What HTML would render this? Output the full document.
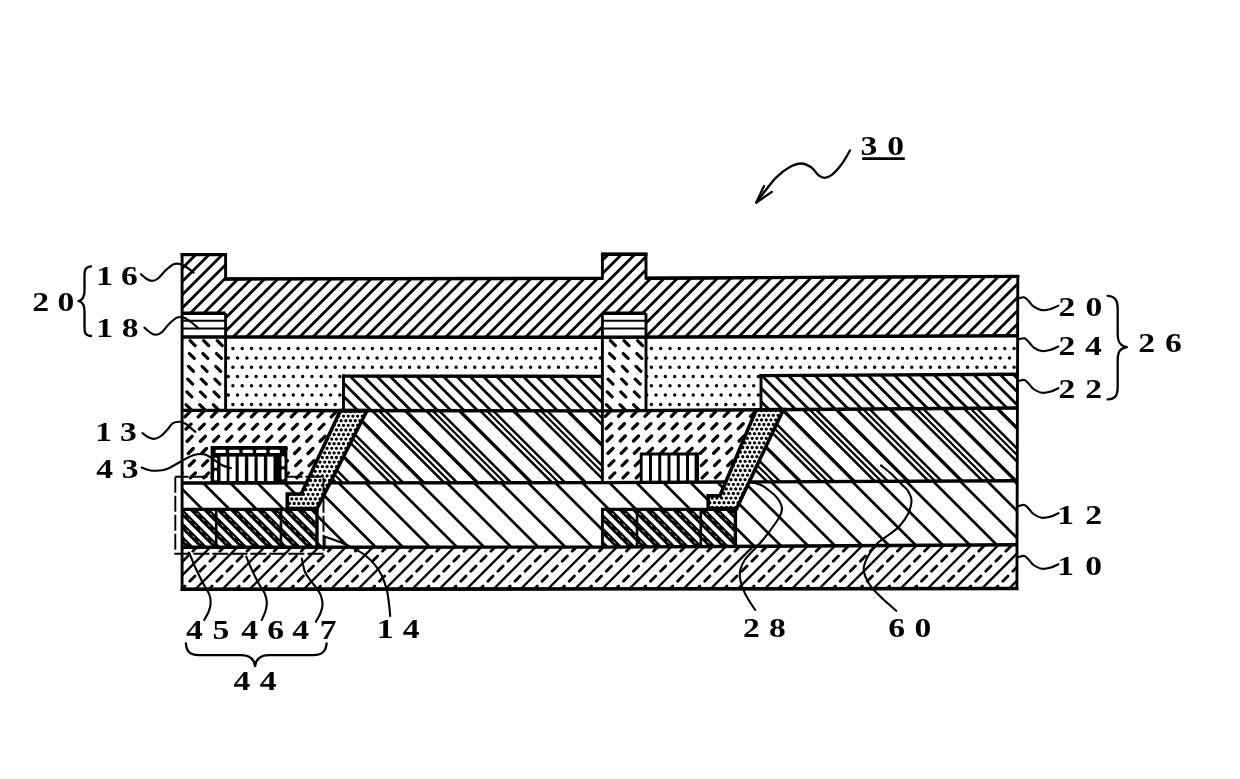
<!DOCTYPE html>
<html lang="en"><head><meta charset="utf-8"><title>Figure 30</title>
<style>html,body{margin:0;padding:0;background:#fff;overflow:hidden}svg{display:block;filter:grayscale(1)}</style></head>
<body>
<svg width="1240" height="779" viewBox="0 0 1240 779" font-family="'Liberation Serif', serif" font-weight="bold" fill="#000"><defs><clipPath id="c1"><path d="M182.1 254.6 L225.6 254.6 L225.6 278.94 L602.4 278.4 L602.4 254.3 L646 254.3 L646 278.19 L1017.3 276.4 L1017.3 335.7 L646 337.13 L646 313.2 L602.4 313.2 L602.4 337.3 L225.6 337.03 L225.6 313.2 L182.1 313.2Z" clip-rule="evenodd"/></clipPath><clipPath id="c2"><path d="M182.1 337 L225.6 337.03 L225.6 410.45 L182.1 410.4Z" clip-rule="evenodd"/></clipPath><clipPath id="c3"><path d="M602.4 337.3 L646 337.13 L646 410.6 L602.4 410.9Z" clip-rule="evenodd"/></clipPath><clipPath id="c4"><path d="M225.6 337.03 L602.4 337.3 L602.4 376.4 L343.5 376.15 L343.5 410.59 L225.6 410.45Z" clip-rule="evenodd"/></clipPath><clipPath id="c5"><path d="M646 337.13 L1017.3 335.7 L1017.3 374.3 L761 375.6 L761 409.79 L646 410.6Z" clip-rule="evenodd"/></clipPath><clipPath id="c6"><path d="M343.5 376.15 L602.4 376.4 L602.4 410.9 L343.5 410.59Z" clip-rule="evenodd"/></clipPath><clipPath id="c7"><path d="M761 375.6 L1017.3 374.3 L1017.3 408 L761 409.79Z" clip-rule="evenodd"/></clipPath><clipPath id="c8"><path d="M182.1 410.4 L340.5 410.59 L306.38 482.88 L182.1 483Z" clip-rule="evenodd"/></clipPath><clipPath id="c9"><path d="M602.4 410.9 L756.2 409.82 L725.73 482.06 L602.4 482.6Z" clip-rule="evenodd"/></clipPath><clipPath id="c10"><path d="M367 410.62 L602.4 410.9 L602.4 482.6 L330.03 482.86Z" clip-rule="evenodd"/></clipPath><clipPath id="c11"><path d="M367 410.62 L602.4 410.9 L602.4 482.6 L330.03 482.86Z" clip-rule="evenodd"/></clipPath><clipPath id="c12"><path d="M367 410.62 L602.4 410.9 L602.4 482.6 L330.03 482.86Z" clip-rule="evenodd"/></clipPath><clipPath id="c13"><path d="M367 410.62 L602.4 410.9 L602.4 482.6 L330.03 482.86Z" clip-rule="evenodd"/></clipPath><clipPath id="c14"><path d="M783.4 409.63 L1017.3 408 L1017.3 480.8 L749.08 481.96Z" clip-rule="evenodd"/></clipPath><clipPath id="c15"><path d="M783.4 409.63 L1017.3 408 L1017.3 480.8 L749.08 481.96Z" clip-rule="evenodd"/></clipPath><clipPath id="c16"><path d="M783.4 409.63 L1017.3 408 L1017.3 480.8 L749.08 481.96Z" clip-rule="evenodd"/></clipPath><clipPath id="c17"><path d="M783.4 409.63 L1017.3 408 L1017.3 480.8 L749.08 481.96Z" clip-rule="evenodd"/></clipPath><clipPath id="c18"><path d="M182.1 483 L602.4 482.6 L1017.3 480.8 L1017.3 544.8 L602.4 547.1 L182.1 547.2ZM182.1 509.4 L317 509.4 L317 547.17 L182.1 547.2ZM602.4 509.4 L735.4 509.4 L735.4 546.36 L602.4 547.1Z" clip-rule="evenodd"/></clipPath><clipPath id="c19"><path d="M182.1 509.4 L317 509.4 L317 547.17 L182.1 547.2Z" clip-rule="evenodd"/></clipPath><clipPath id="c20"><path d="M182.1 509.4 L317 509.4 L317 547.17 L182.1 547.2Z" clip-rule="evenodd"/></clipPath><clipPath id="c21"><path d="M602.4 509.4 L735.4 509.4 L735.4 546.36 L602.4 547.1Z" clip-rule="evenodd"/></clipPath><clipPath id="c22"><path d="M602.4 509.4 L735.4 509.4 L735.4 546.36 L602.4 547.1Z" clip-rule="evenodd"/></clipPath><clipPath id="c23"><path d="M340.5 410.59 L367 410.62 L317 508.5 L287.3 508.5 L287.3 494 L301.2 494Z" clip-rule="evenodd"/></clipPath><clipPath id="c24"><path d="M756.2 409.82 L783.4 409.63 L736.6 508.6 L708.2 508.6 L708.2 495.8 L720 495.8Z" clip-rule="evenodd"/></clipPath><clipPath id="c25"><path d="M182.1 547.2 L602.4 547.1 L1017.3 544.8 L1017.3 588.5 L602.4 588.9 L182.1 589.3Z" clip-rule="evenodd"/></clipPath><clipPath id="c26"><path d="M182.1 547.2 L602.4 547.1 L1017.3 544.8 L1017.3 588.5 L602.4 588.9 L182.1 589.3Z" clip-rule="evenodd"/></clipPath></defs><rect width="1240" height="779" fill="#fff"/><g>
<path clip-path="url(#c1)" d="M97.8 339.3L184.8 252.3M111.1 339.3L198.1 252.3M124.4 339.3L211.4 252.3M137.7 339.3L224.7 252.3M151 339.3L238 252.3M164.3 339.3L251.3 252.3M177.6 339.3L264.6 252.3M190.9 339.3L277.9 252.3M204.2 339.3L291.2 252.3M217.5 339.3L304.5 252.3M230.8 339.3L317.8 252.3M244.1 339.3L331.1 252.3M257.4 339.3L344.4 252.3M270.7 339.3L357.7 252.3M284 339.3L371 252.3M297.3 339.3L384.3 252.3M310.6 339.3L397.6 252.3M323.9 339.3L410.9 252.3M337.2 339.3L424.2 252.3M350.5 339.3L437.5 252.3M363.8 339.3L450.8 252.3M377.1 339.3L464.1 252.3M390.4 339.3L477.4 252.3M403.7 339.3L490.7 252.3M417 339.3L504 252.3M430.3 339.3L517.3 252.3M443.6 339.3L530.6 252.3M456.9 339.3L543.9 252.3M470.2 339.3L557.2 252.3M483.5 339.3L570.5 252.3M496.8 339.3L583.8 252.3M510.1 339.3L597.1 252.3M523.4 339.3L610.4 252.3M536.7 339.3L623.7 252.3M550 339.3L637 252.3M563.3 339.3L650.3 252.3M576.6 339.3L663.6 252.3M589.9 339.3L676.9 252.3M603.2 339.3L690.2 252.3M616.5 339.3L703.5 252.3M629.8 339.3L716.8 252.3M643.1 339.3L730.1 252.3M656.4 339.3L743.4 252.3M669.7 339.3L756.7 252.3M683 339.3L770 252.3M696.3 339.3L783.3 252.3M709.6 339.3L796.6 252.3M722.9 339.3L809.9 252.3M736.2 339.3L823.2 252.3M749.5 339.3L836.5 252.3M762.8 339.3L849.8 252.3M776.1 339.3L863.1 252.3M789.4 339.3L876.4 252.3M802.7 339.3L889.7 252.3M816 339.3L903 252.3M829.3 339.3L916.3 252.3M842.6 339.3L929.6 252.3M855.9 339.3L942.9 252.3M869.2 339.3L956.2 252.3M882.5 339.3L969.5 252.3M895.8 339.3L982.8 252.3M909.1 339.3L996.1 252.3M922.4 339.3L1009.4 252.3M935.7 339.3L1022.7 252.3M949 339.3L1036 252.3M962.3 339.3L1049.3 252.3M975.6 339.3L1062.6 252.3M988.9 339.3L1075.9 252.3M1002.2 339.3L1089.2 252.3" fill="none" stroke="#000" stroke-width="2.8" />
<path d="M182.1 320.7 L225.6 320.7" fill="none" stroke="#000" stroke-width="2.1" stroke-linejoin="miter" />
<path d="M182.1 328.5 L225.6 328.5" fill="none" stroke="#000" stroke-width="2.1" stroke-linejoin="miter" />
<path d="M602.4 320.7 L646 320.7" fill="none" stroke="#000" stroke-width="2.1" stroke-linejoin="miter" />
<path d="M602.4 328.5 L646 328.5" fill="none" stroke="#000" stroke-width="2.1" stroke-linejoin="miter" />
<path clip-path="url(#c2)" d="M176.53 340.73L181.47 345.67M190.13 340.73L195.07 345.67M203.73 340.73L208.67 345.67M217.33 340.73L222.27 345.67M230.93 340.73L235.87 345.67M175.73 353.53L180.67 358.47M189.33 353.53L194.27 358.47M202.93 353.53L207.87 358.47M216.53 353.53L221.47 358.47M230.13 353.53L235.07 358.47M174.93 366.33L179.87 371.27M188.53 366.33L193.47 371.27M202.13 366.33L207.07 371.27M215.73 366.33L220.67 371.27M229.33 366.33L234.27 371.27M174.13 379.13L179.07 384.07M187.73 379.13L192.67 384.07M201.33 379.13L206.27 384.07M214.93 379.13L219.87 384.07M228.53 379.13L233.47 384.07M173.33 391.93L178.27 396.87M186.93 391.93L191.87 396.87M200.53 391.93L205.47 396.87M214.13 391.93L219.07 396.87M227.73 391.93L232.67 396.87M172.53 404.73L177.47 409.67M186.13 404.73L191.07 409.67M199.73 404.73L204.67 409.67M213.33 404.73L218.27 409.67M226.93 404.73L231.87 409.67" fill="none" stroke="#000" stroke-width="3.2" stroke-linecap="round"/>
<path clip-path="url(#c3)" d="M596.83 340.73L601.77 345.67M610.43 340.73L615.37 345.67M624.03 340.73L628.97 345.67M637.63 340.73L642.57 345.67M651.23 340.73L656.17 345.67M596.03 353.53L600.97 358.47M609.63 353.53L614.57 358.47M623.23 353.53L628.17 358.47M636.83 353.53L641.77 358.47M650.43 353.53L655.37 358.47M595.23 366.33L600.17 371.27M608.83 366.33L613.77 371.27M622.43 366.33L627.37 371.27M636.03 366.33L640.97 371.27M649.63 366.33L654.57 371.27M594.43 379.13L599.37 384.07M608.03 379.13L612.97 384.07M621.63 379.13L626.57 384.07M635.23 379.13L640.17 384.07M648.83 379.13L653.77 384.07M593.63 391.93L598.57 396.87M607.23 391.93L612.17 396.87M620.83 391.93L625.77 396.87M634.43 391.93L639.37 396.87M648.03 391.93L652.97 396.87M592.83 404.73L597.77 409.67M606.43 404.73L611.37 409.67M620.03 404.73L624.97 409.67M633.63 404.73L638.57 409.67M647.23 404.73L652.17 409.67" fill="none" stroke="#000" stroke-width="3.2" stroke-linecap="round"/>
<path clip-path="url(#c4)" d="M214.3 348.6h0M223.6 348.6h0M232.9 348.6h0M242.2 348.6h0M251.5 348.6h0M260.8 348.6h0M270.1 348.6h0M279.4 348.6h0M288.7 348.6h0M298 348.6h0M307.3 348.6h0M316.6 348.6h0M325.9 348.6h0M335.2 348.6h0M344.5 348.6h0M353.8 348.6h0M363.1 348.6h0M372.4 348.6h0M381.7 348.6h0M391 348.6h0M400.3 348.6h0M409.6 348.6h0M418.9 348.6h0M428.2 348.6h0M437.5 348.6h0M446.8 348.6h0M456.1 348.6h0M465.4 348.6h0M474.7 348.6h0M484 348.6h0M493.3 348.6h0M502.6 348.6h0M511.9 348.6h0M521.2 348.6h0M530.5 348.6h0M539.8 348.6h0M549.1 348.6h0M558.4 348.6h0M567.7 348.6h0M577 348.6h0M586.3 348.6h0M595.6 348.6h0M604.9 348.6h0M209.65 357.9h0M218.95 357.9h0M228.25 357.9h0M237.55 357.9h0M246.85 357.9h0M256.15 357.9h0M265.45 357.9h0M274.75 357.9h0M284.05 357.9h0M293.35 357.9h0M302.65 357.9h0M311.95 357.9h0M321.25 357.9h0M330.55 357.9h0M339.85 357.9h0M349.15 357.9h0M358.45 357.9h0M367.75 357.9h0M377.05 357.9h0M386.35 357.9h0M395.65 357.9h0M404.95 357.9h0M414.25 357.9h0M423.55 357.9h0M432.85 357.9h0M442.15 357.9h0M451.45 357.9h0M460.75 357.9h0M470.05 357.9h0M479.35 357.9h0M488.65 357.9h0M497.95 357.9h0M507.25 357.9h0M516.55 357.9h0M525.85 357.9h0M535.15 357.9h0M544.45 357.9h0M553.75 357.9h0M563.05 357.9h0M572.35 357.9h0M581.65 357.9h0M590.95 357.9h0M600.25 357.9h0M609.55 357.9h0M214.3 367.2h0M223.6 367.2h0M232.9 367.2h0M242.2 367.2h0M251.5 367.2h0M260.8 367.2h0M270.1 367.2h0M279.4 367.2h0M288.7 367.2h0M298 367.2h0M307.3 367.2h0M316.6 367.2h0M325.9 367.2h0M335.2 367.2h0M344.5 367.2h0M353.8 367.2h0M363.1 367.2h0M372.4 367.2h0M381.7 367.2h0M391 367.2h0M400.3 367.2h0M409.6 367.2h0M418.9 367.2h0M428.2 367.2h0M437.5 367.2h0M446.8 367.2h0M456.1 367.2h0M465.4 367.2h0M474.7 367.2h0M484 367.2h0M493.3 367.2h0M502.6 367.2h0M511.9 367.2h0M521.2 367.2h0M530.5 367.2h0M539.8 367.2h0M549.1 367.2h0M558.4 367.2h0M567.7 367.2h0M577 367.2h0M586.3 367.2h0M595.6 367.2h0M604.9 367.2h0M209.65 376.5h0M218.95 376.5h0M228.25 376.5h0M237.55 376.5h0M246.85 376.5h0M256.15 376.5h0M265.45 376.5h0M274.75 376.5h0M284.05 376.5h0M293.35 376.5h0M302.65 376.5h0M311.95 376.5h0M321.25 376.5h0M330.55 376.5h0M339.85 376.5h0M349.15 376.5h0M358.45 376.5h0M367.75 376.5h0M377.05 376.5h0M386.35 376.5h0M395.65 376.5h0M404.95 376.5h0M414.25 376.5h0M423.55 376.5h0M432.85 376.5h0M442.15 376.5h0M451.45 376.5h0M460.75 376.5h0M470.05 376.5h0M479.35 376.5h0M488.65 376.5h0M497.95 376.5h0M507.25 376.5h0M516.55 376.5h0M525.85 376.5h0M535.15 376.5h0M544.45 376.5h0M553.75 376.5h0M563.05 376.5h0M572.35 376.5h0M581.65 376.5h0M590.95 376.5h0M600.25 376.5h0M609.55 376.5h0M214.3 385.8h0M223.6 385.8h0M232.9 385.8h0M242.2 385.8h0M251.5 385.8h0M260.8 385.8h0M270.1 385.8h0M279.4 385.8h0M288.7 385.8h0M298 385.8h0M307.3 385.8h0M316.6 385.8h0M325.9 385.8h0M335.2 385.8h0M344.5 385.8h0M353.8 385.8h0M363.1 385.8h0M372.4 385.8h0M381.7 385.8h0M391 385.8h0M400.3 385.8h0M409.6 385.8h0M418.9 385.8h0M428.2 385.8h0M437.5 385.8h0M446.8 385.8h0M456.1 385.8h0M465.4 385.8h0M474.7 385.8h0M484 385.8h0M493.3 385.8h0M502.6 385.8h0M511.9 385.8h0M521.2 385.8h0M530.5 385.8h0M539.8 385.8h0M549.1 385.8h0M558.4 385.8h0M567.7 385.8h0M577 385.8h0M586.3 385.8h0M595.6 385.8h0M604.9 385.8h0M209.65 395.1h0M218.95 395.1h0M228.25 395.1h0M237.55 395.1h0M246.85 395.1h0M256.15 395.1h0M265.45 395.1h0M274.75 395.1h0M284.05 395.1h0M293.35 395.1h0M302.65 395.1h0M311.95 395.1h0M321.25 395.1h0M330.55 395.1h0M339.85 395.1h0M349.15 395.1h0M358.45 395.1h0M367.75 395.1h0M377.05 395.1h0M386.35 395.1h0M395.65 395.1h0M404.95 395.1h0M414.25 395.1h0M423.55 395.1h0M432.85 395.1h0M442.15 395.1h0M451.45 395.1h0M460.75 395.1h0M470.05 395.1h0M479.35 395.1h0M488.65 395.1h0M497.95 395.1h0M507.25 395.1h0M516.55 395.1h0M525.85 395.1h0M535.15 395.1h0M544.45 395.1h0M553.75 395.1h0M563.05 395.1h0M572.35 395.1h0M581.65 395.1h0M590.95 395.1h0M600.25 395.1h0M609.55 395.1h0M214.3 404.4h0M223.6 404.4h0M232.9 404.4h0M242.2 404.4h0M251.5 404.4h0M260.8 404.4h0M270.1 404.4h0M279.4 404.4h0M288.7 404.4h0M298 404.4h0M307.3 404.4h0M316.6 404.4h0M325.9 404.4h0M335.2 404.4h0M344.5 404.4h0M353.8 404.4h0M363.1 404.4h0M372.4 404.4h0M381.7 404.4h0M391 404.4h0M400.3 404.4h0M409.6 404.4h0M418.9 404.4h0M428.2 404.4h0M437.5 404.4h0M446.8 404.4h0M456.1 404.4h0M465.4 404.4h0M474.7 404.4h0M484 404.4h0M493.3 404.4h0M502.6 404.4h0M511.9 404.4h0M521.2 404.4h0M530.5 404.4h0M539.8 404.4h0M549.1 404.4h0M558.4 404.4h0M567.7 404.4h0M577 404.4h0M586.3 404.4h0M595.6 404.4h0M604.9 404.4h0M209.65 413.7h0M218.95 413.7h0M228.25 413.7h0M237.55 413.7h0M246.85 413.7h0M256.15 413.7h0M265.45 413.7h0M274.75 413.7h0M284.05 413.7h0M293.35 413.7h0M302.65 413.7h0M311.95 413.7h0M321.25 413.7h0M330.55 413.7h0M339.85 413.7h0M349.15 413.7h0M358.45 413.7h0M367.75 413.7h0M377.05 413.7h0M386.35 413.7h0M395.65 413.7h0M404.95 413.7h0M414.25 413.7h0M423.55 413.7h0M432.85 413.7h0M442.15 413.7h0M451.45 413.7h0M460.75 413.7h0M470.05 413.7h0M479.35 413.7h0M488.65 413.7h0M497.95 413.7h0M507.25 413.7h0M516.55 413.7h0M525.85 413.7h0M535.15 413.7h0M544.45 413.7h0M553.75 413.7h0M563.05 413.7h0M572.35 413.7h0M581.65 413.7h0M590.95 413.7h0M600.25 413.7h0M609.55 413.7h0" fill="none" stroke="#000" stroke-width="3.5" stroke-linecap="round"/>
<path clip-path="url(#c5)" d="M632.8 348.6h0M642.1 348.6h0M651.4 348.6h0M660.7 348.6h0M670 348.6h0M679.3 348.6h0M688.6 348.6h0M697.9 348.6h0M707.2 348.6h0M716.5 348.6h0M725.8 348.6h0M735.1 348.6h0M744.4 348.6h0M753.7 348.6h0M763 348.6h0M772.3 348.6h0M781.6 348.6h0M790.9 348.6h0M800.2 348.6h0M809.5 348.6h0M818.8 348.6h0M828.1 348.6h0M837.4 348.6h0M846.7 348.6h0M856 348.6h0M865.3 348.6h0M874.6 348.6h0M883.9 348.6h0M893.2 348.6h0M902.5 348.6h0M911.8 348.6h0M921.1 348.6h0M930.4 348.6h0M939.7 348.6h0M949 348.6h0M958.3 348.6h0M967.6 348.6h0M976.9 348.6h0M986.2 348.6h0M995.5 348.6h0M1004.8 348.6h0M1014.1 348.6h0M1023.4 348.6h0M628.15 357.9h0M637.45 357.9h0M646.75 357.9h0M656.05 357.9h0M665.35 357.9h0M674.65 357.9h0M683.95 357.9h0M693.25 357.9h0M702.55 357.9h0M711.85 357.9h0M721.15 357.9h0M730.45 357.9h0M739.75 357.9h0M749.05 357.9h0M758.35 357.9h0M767.65 357.9h0M776.95 357.9h0M786.25 357.9h0M795.55 357.9h0M804.85 357.9h0M814.15 357.9h0M823.45 357.9h0M832.75 357.9h0M842.05 357.9h0M851.35 357.9h0M860.65 357.9h0M869.95 357.9h0M879.25 357.9h0M888.55 357.9h0M897.85 357.9h0M907.15 357.9h0M916.45 357.9h0M925.75 357.9h0M935.05 357.9h0M944.35 357.9h0M953.65 357.9h0M962.95 357.9h0M972.25 357.9h0M981.55 357.9h0M990.85 357.9h0M1000.15 357.9h0M1009.45 357.9h0M1018.75 357.9h0M632.8 367.2h0M642.1 367.2h0M651.4 367.2h0M660.7 367.2h0M670 367.2h0M679.3 367.2h0M688.6 367.2h0M697.9 367.2h0M707.2 367.2h0M716.5 367.2h0M725.8 367.2h0M735.1 367.2h0M744.4 367.2h0M753.7 367.2h0M763 367.2h0M772.3 367.2h0M781.6 367.2h0M790.9 367.2h0M800.2 367.2h0M809.5 367.2h0M818.8 367.2h0M828.1 367.2h0M837.4 367.2h0M846.7 367.2h0M856 367.2h0M865.3 367.2h0M874.6 367.2h0M883.9 367.2h0M893.2 367.2h0M902.5 367.2h0M911.8 367.2h0M921.1 367.2h0M930.4 367.2h0M939.7 367.2h0M949 367.2h0M958.3 367.2h0M967.6 367.2h0M976.9 367.2h0M986.2 367.2h0M995.5 367.2h0M1004.8 367.2h0M1014.1 367.2h0M1023.4 367.2h0M628.15 376.5h0M637.45 376.5h0M646.75 376.5h0M656.05 376.5h0M665.35 376.5h0M674.65 376.5h0M683.95 376.5h0M693.25 376.5h0M702.55 376.5h0M711.85 376.5h0M721.15 376.5h0M730.45 376.5h0M739.75 376.5h0M749.05 376.5h0M758.35 376.5h0M767.65 376.5h0M776.95 376.5h0M786.25 376.5h0M795.55 376.5h0M804.85 376.5h0M814.15 376.5h0M823.45 376.5h0M832.75 376.5h0M842.05 376.5h0M851.35 376.5h0M860.65 376.5h0M869.95 376.5h0M879.25 376.5h0M888.55 376.5h0M897.85 376.5h0M907.15 376.5h0M916.45 376.5h0M925.75 376.5h0M935.05 376.5h0M944.35 376.5h0M953.65 376.5h0M962.95 376.5h0M972.25 376.5h0M981.55 376.5h0M990.85 376.5h0M1000.15 376.5h0M1009.45 376.5h0M1018.75 376.5h0M632.8 385.8h0M642.1 385.8h0M651.4 385.8h0M660.7 385.8h0M670 385.8h0M679.3 385.8h0M688.6 385.8h0M697.9 385.8h0M707.2 385.8h0M716.5 385.8h0M725.8 385.8h0M735.1 385.8h0M744.4 385.8h0M753.7 385.8h0M763 385.8h0M772.3 385.8h0M781.6 385.8h0M790.9 385.8h0M800.2 385.8h0M809.5 385.8h0M818.8 385.8h0M828.1 385.8h0M837.4 385.8h0M846.7 385.8h0M856 385.8h0M865.3 385.8h0M874.6 385.8h0M883.9 385.8h0M893.2 385.8h0M902.5 385.8h0M911.8 385.8h0M921.1 385.8h0M930.4 385.8h0M939.7 385.8h0M949 385.8h0M958.3 385.8h0M967.6 385.8h0M976.9 385.8h0M986.2 385.8h0M995.5 385.8h0M1004.8 385.8h0M1014.1 385.8h0M1023.4 385.8h0M628.15 395.1h0M637.45 395.1h0M646.75 395.1h0M656.05 395.1h0M665.35 395.1h0M674.65 395.1h0M683.95 395.1h0M693.25 395.1h0M702.55 395.1h0M711.85 395.1h0M721.15 395.1h0M730.45 395.1h0M739.75 395.1h0M749.05 395.1h0M758.35 395.1h0M767.65 395.1h0M776.95 395.1h0M786.25 395.1h0M795.55 395.1h0M804.85 395.1h0M814.15 395.1h0M823.45 395.1h0M832.75 395.1h0M842.05 395.1h0M851.35 395.1h0M860.65 395.1h0M869.95 395.1h0M879.25 395.1h0M888.55 395.1h0M897.85 395.1h0M907.15 395.1h0M916.45 395.1h0M925.75 395.1h0M935.05 395.1h0M944.35 395.1h0M953.65 395.1h0M962.95 395.1h0M972.25 395.1h0M981.55 395.1h0M990.85 395.1h0M1000.15 395.1h0M1009.45 395.1h0M1018.75 395.1h0M632.8 404.4h0M642.1 404.4h0M651.4 404.4h0M660.7 404.4h0M670 404.4h0M679.3 404.4h0M688.6 404.4h0M697.9 404.4h0M707.2 404.4h0M716.5 404.4h0M725.8 404.4h0M735.1 404.4h0M744.4 404.4h0M753.7 404.4h0M763 404.4h0M772.3 404.4h0M781.6 404.4h0M790.9 404.4h0M800.2 404.4h0M809.5 404.4h0M818.8 404.4h0M828.1 404.4h0M837.4 404.4h0M846.7 404.4h0M856 404.4h0M865.3 404.4h0M874.6 404.4h0M883.9 404.4h0M893.2 404.4h0M902.5 404.4h0M911.8 404.4h0M921.1 404.4h0M930.4 404.4h0M939.7 404.4h0M949 404.4h0M958.3 404.4h0M967.6 404.4h0M976.9 404.4h0M986.2 404.4h0M995.5 404.4h0M1004.8 404.4h0M1014.1 404.4h0M1023.4 404.4h0M628.15 413.7h0M637.45 413.7h0M646.75 413.7h0M656.05 413.7h0M665.35 413.7h0M674.65 413.7h0M683.95 413.7h0M693.25 413.7h0M702.55 413.7h0M711.85 413.7h0M721.15 413.7h0M730.45 413.7h0M739.75 413.7h0M749.05 413.7h0M758.35 413.7h0M767.65 413.7h0M776.95 413.7h0M786.25 413.7h0M795.55 413.7h0M804.85 413.7h0M814.15 413.7h0M823.45 413.7h0M832.75 413.7h0M842.05 413.7h0M851.35 413.7h0M860.65 413.7h0M869.95 413.7h0M879.25 413.7h0M888.55 413.7h0M897.85 413.7h0M907.15 413.7h0M916.45 413.7h0M925.75 413.7h0M935.05 413.7h0M944.35 413.7h0M953.65 413.7h0M962.95 413.7h0M972.25 413.7h0M981.55 413.7h0M990.85 413.7h0M1000.15 413.7h0M1009.45 413.7h0M1018.75 413.7h0" fill="none" stroke="#000" stroke-width="3.5" stroke-linecap="round"/>
<path clip-path="url(#c6)" d="M308.15 374.15L346.9 412.9M321.45 374.15L360.2 412.9M334.75 374.15L373.5 412.9M348.05 374.15L386.8 412.9M361.35 374.15L400.1 412.9M374.65 374.15L413.4 412.9M387.95 374.15L426.7 412.9M401.25 374.15L440 412.9M414.55 374.15L453.3 412.9M427.85 374.15L466.6 412.9M441.15 374.15L479.9 412.9M454.45 374.15L493.2 412.9M467.75 374.15L506.5 412.9M481.05 374.15L519.8 412.9M494.35 374.15L533.1 412.9M507.65 374.15L546.4 412.9M520.95 374.15L559.7 412.9M534.25 374.15L573 412.9M547.55 374.15L586.3 412.9M560.85 374.15L599.6 412.9M574.15 374.15L612.9 412.9M587.45 374.15L626.2 412.9" fill="none" stroke="#000" stroke-width="2.8" />
<path clip-path="url(#c7)" d="M731.9 372.3L771.39 411.79M745.2 372.3L784.69 411.79M758.5 372.3L797.99 411.79M771.8 372.3L811.29 411.79M785.1 372.3L824.59 411.79M798.4 372.3L837.89 411.79M811.7 372.3L851.19 411.79M825 372.3L864.49 411.79M838.3 372.3L877.79 411.79M851.6 372.3L891.09 411.79M864.9 372.3L904.39 411.79M878.2 372.3L917.69 411.79M891.5 372.3L930.99 411.79M904.8 372.3L944.29 411.79M918.1 372.3L957.59 411.79M931.4 372.3L970.89 411.79M944.7 372.3L984.19 411.79M958 372.3L997.49 411.79M971.3 372.3L1010.79 411.79M984.6 372.3L1024.09 411.79M997.9 372.3L1037.39 411.79M1011.2 372.3L1050.69 411.79" fill="none" stroke="#000" stroke-width="2.8" />
<path clip-path="url(#c8)" d="M171.63 416.87L176.57 411.93M184.93 416.87L189.87 411.93M198.23 416.87L203.17 411.93M211.53 416.87L216.47 411.93M224.83 416.87L229.77 411.93M238.13 416.87L243.07 411.93M251.43 416.87L256.37 411.93M264.73 416.87L269.67 411.93M278.03 416.87L282.97 411.93M291.33 416.87L296.27 411.93M304.63 416.87L309.57 411.93M317.93 416.87L322.87 411.93M331.23 416.87L336.17 411.93M344.53 416.87L349.47 411.93M172.73 429.07L177.67 424.13M186.03 429.07L190.97 424.13M199.33 429.07L204.27 424.13M212.63 429.07L217.57 424.13M225.93 429.07L230.87 424.13M239.23 429.07L244.17 424.13M252.53 429.07L257.47 424.13M265.83 429.07L270.77 424.13M279.13 429.07L284.07 424.13M292.43 429.07L297.37 424.13M305.73 429.07L310.67 424.13M319.03 429.07L323.97 424.13M332.33 429.07L337.27 424.13M345.63 429.07L350.57 424.13M173.83 441.27L178.77 436.33M187.13 441.27L192.07 436.33M200.43 441.27L205.37 436.33M213.73 441.27L218.67 436.33M227.03 441.27L231.97 436.33M240.33 441.27L245.27 436.33M253.63 441.27L258.57 436.33M266.93 441.27L271.87 436.33M280.23 441.27L285.17 436.33M293.53 441.27L298.47 436.33M306.83 441.27L311.77 436.33M320.13 441.27L325.07 436.33M333.43 441.27L338.37 436.33M346.73 441.27L351.67 436.33M174.93 453.47L179.87 448.53M188.23 453.47L193.17 448.53M201.53 453.47L206.47 448.53M214.83 453.47L219.77 448.53M228.13 453.47L233.07 448.53M241.43 453.47L246.37 448.53M254.73 453.47L259.67 448.53M268.03 453.47L272.97 448.53M281.33 453.47L286.27 448.53M294.63 453.47L299.57 448.53M307.93 453.47L312.87 448.53M321.23 453.47L326.17 448.53M334.53 453.47L339.47 448.53M347.83 453.47L352.77 448.53M176.03 465.67L180.97 460.73M189.33 465.67L194.27 460.73M202.63 465.67L207.57 460.73M215.93 465.67L220.87 460.73M229.23 465.67L234.17 460.73M242.53 465.67L247.47 460.73M255.83 465.67L260.77 460.73M269.13 465.67L274.07 460.73M282.43 465.67L287.37 460.73M295.73 465.67L300.67 460.73M309.03 465.67L313.97 460.73M322.33 465.67L327.27 460.73M335.63 465.67L340.57 460.73M177.13 477.87L182.07 472.93M190.43 477.87L195.37 472.93M203.73 477.87L208.67 472.93M217.03 477.87L221.97 472.93M230.33 477.87L235.27 472.93M243.63 477.87L248.57 472.93M256.93 477.87L261.87 472.93M270.23 477.87L275.17 472.93M283.53 477.87L288.47 472.93M296.83 477.87L301.77 472.93M310.13 477.87L315.07 472.93M323.43 477.87L328.37 472.93M336.73 477.87L341.67 472.93" fill="none" stroke="#000" stroke-width="3.3" stroke-linecap="round"/>
<path clip-path="url(#c9)" d="M592.13 416.37L597.07 411.43M605.33 416.37L610.27 411.43M618.53 416.37L623.47 411.43M631.73 416.37L636.67 411.43M644.93 416.37L649.87 411.43M658.13 416.37L663.07 411.43M671.33 416.37L676.27 411.43M684.53 416.37L689.47 411.43M697.73 416.37L702.67 411.43M710.93 416.37L715.87 411.43M724.13 416.37L729.07 411.43M737.33 416.37L742.27 411.43M750.53 416.37L755.47 411.43M593.03 428.67L597.97 423.73M606.23 428.67L611.17 423.73M619.43 428.67L624.37 423.73M632.63 428.67L637.57 423.73M645.83 428.67L650.77 423.73M659.03 428.67L663.97 423.73M672.23 428.67L677.17 423.73M685.43 428.67L690.37 423.73M698.63 428.67L703.57 423.73M711.83 428.67L716.77 423.73M725.03 428.67L729.97 423.73M738.23 428.67L743.17 423.73M751.43 428.67L756.37 423.73M593.93 440.97L598.87 436.03M607.13 440.97L612.07 436.03M620.33 440.97L625.27 436.03M633.53 440.97L638.47 436.03M646.73 440.97L651.67 436.03M659.93 440.97L664.87 436.03M673.13 440.97L678.07 436.03M686.33 440.97L691.27 436.03M699.53 440.97L704.47 436.03M712.73 440.97L717.67 436.03M725.93 440.97L730.87 436.03M739.13 440.97L744.07 436.03M752.33 440.97L757.27 436.03M594.83 453.27L599.77 448.33M608.03 453.27L612.97 448.33M621.23 453.27L626.17 448.33M634.43 453.27L639.37 448.33M647.63 453.27L652.57 448.33M660.83 453.27L665.77 448.33M674.03 453.27L678.97 448.33M687.23 453.27L692.17 448.33M700.43 453.27L705.37 448.33M713.63 453.27L718.57 448.33M726.83 453.27L731.77 448.33M740.03 453.27L744.97 448.33M753.23 453.27L758.17 448.33M595.73 465.57L600.67 460.63M608.93 465.57L613.87 460.63M622.13 465.57L627.07 460.63M635.33 465.57L640.27 460.63M648.53 465.57L653.47 460.63M661.73 465.57L666.67 460.63M674.93 465.57L679.87 460.63M688.13 465.57L693.07 460.63M701.33 465.57L706.27 460.63M714.53 465.57L719.47 460.63M727.73 465.57L732.67 460.63M740.93 465.57L745.87 460.63M754.13 465.57L759.07 460.63M596.63 477.87L601.57 472.93M609.83 477.87L614.77 472.93M623.03 477.87L627.97 472.93M636.23 477.87L641.17 472.93M649.43 477.87L654.37 472.93M662.63 477.87L667.57 472.93M675.83 477.87L680.77 472.93M689.03 477.87L693.97 472.93M702.23 477.87L707.17 472.93M715.43 477.87L720.37 472.93M728.63 477.87L733.57 472.93M741.83 477.87L746.77 472.93M755.03 477.87L759.97 472.93" fill="none" stroke="#000" stroke-width="3.3" stroke-linecap="round"/>
<path clip-path="url(#c10)" d="M295.42 408.62L371.66 484.86M349.42 408.62L425.66 484.86M403.42 408.62L479.66 484.86M457.42 408.62L533.66 484.86M511.42 408.62L587.66 484.86M565.42 408.62L641.66 484.86" fill="none" stroke="#000" stroke-width="3.4" />
<path clip-path="url(#c11)" d="M262.12 408.62L338.36 484.86M316.12 408.62L392.36 484.86M370.12 408.62L446.36 484.86M424.12 408.62L500.36 484.86M478.12 408.62L554.36 484.86M532.12 408.62L608.36 484.86M586.12 408.62L662.36 484.86" fill="none" stroke="#000" stroke-width="2.6" />
<path clip-path="url(#c12)" d="M268.62 408.62L344.86 484.86M322.62 408.62L398.86 484.86M376.62 408.62L452.86 484.86M430.62 408.62L506.86 484.86M484.62 408.62L560.86 484.86M538.62 408.62L614.86 484.86M592.62 408.62L668.86 484.86" fill="none" stroke="#000" stroke-width="2.2" />
<path clip-path="url(#c13)" d="M275.12 408.62L351.36 484.86M329.12 408.62L405.36 484.86M383.12 408.62L459.36 484.86M437.12 408.62L513.36 484.86M491.12 408.62L567.36 484.86M545.12 408.62L621.36 484.86M599.12 408.62L675.36 484.86" fill="none" stroke="#000" stroke-width="2.5" />
<path clip-path="url(#c14)" d="M724.8 406L802.76 483.96M778.8 406L856.76 483.96M832.8 406L910.76 483.96M886.8 406L964.76 483.96M940.8 406L1018.76 483.96M994.8 406L1072.76 483.96" fill="none" stroke="#000" stroke-width="3.4" />
<path clip-path="url(#c15)" d="M691.5 406L769.46 483.96M745.5 406L823.46 483.96M799.5 406L877.46 483.96M853.5 406L931.46 483.96M907.5 406L985.46 483.96M961.5 406L1039.46 483.96" fill="none" stroke="#000" stroke-width="2.6" />
<path clip-path="url(#c16)" d="M698 406L775.96 483.96M752 406L829.96 483.96M806 406L883.96 483.96M860 406L937.96 483.96M914 406L991.96 483.96M968 406L1045.96 483.96" fill="none" stroke="#000" stroke-width="2.2" />
<path clip-path="url(#c17)" d="M704.5 406L782.46 483.96M758.5 406L836.46 483.96M812.5 406L890.46 483.96M866.5 406L944.46 483.96M920.5 406L998.46 483.96M974.5 406L1052.46 483.96" fill="none" stroke="#000" stroke-width="2.5" />
<path clip-path="url(#c18)" d="M117.7 478.8L188.1 549.2M144.8 478.8L215.2 549.2M171.9 478.8L242.3 549.2M199 478.8L269.4 549.2M226.1 478.8L296.5 549.2M253.2 478.8L323.6 549.2M280.3 478.8L350.7 549.2M307.4 478.8L377.8 549.2M334.5 478.8L404.9 549.2M361.6 478.8L432 549.2M388.7 478.8L459.1 549.2M415.8 478.8L486.2 549.2M442.9 478.8L513.3 549.2M470 478.8L540.4 549.2M497.1 478.8L567.5 549.2M524.2 478.8L594.6 549.2M551.3 478.8L621.7 549.2M578.4 478.8L648.8 549.2M605.5 478.8L675.9 549.2M632.6 478.8L703 549.2M659.7 478.8L730.1 549.2M686.8 478.8L757.2 549.2M713.9 478.8L784.3 549.2M741 478.8L811.4 549.2M768.1 478.8L838.5 549.2M795.2 478.8L865.6 549.2M822.3 478.8L892.7 549.2M849.4 478.8L919.8 549.2M876.5 478.8L946.9 549.2M903.6 478.8L974 549.2M930.7 478.8L1001.1 549.2M957.8 478.8L1028.2 549.2M984.9 478.8L1055.3 549.2M1012 478.8L1082.4 549.2" fill="none" stroke="#000" stroke-width="2.7" />
<path clip-path="url(#c19)" d="M150.4 507.4L192.2 549.2M163.8 507.4L205.6 549.2M177.2 507.4L219 549.2M190.6 507.4L232.4 549.2M204 507.4L245.8 549.2M217.4 507.4L259.2 549.2M230.8 507.4L272.6 549.2M244.2 507.4L286 549.2M257.6 507.4L299.4 549.2M271 507.4L312.8 549.2M284.4 507.4L326.2 549.2M297.8 507.4L339.6 549.2M311.2 507.4L353 549.2" fill="none" stroke="#000" stroke-width="5.5" />
<path clip-path="url(#c20)" d="M150.8 507.4L192.6 549.2M164.2 507.4L206 549.2M177.6 507.4L219.4 549.2M191 507.4L232.8 549.2M204.4 507.4L246.2 549.2M217.8 507.4L259.6 549.2M231.2 507.4L273 549.2M244.6 507.4L286.4 549.2M258 507.4L299.8 549.2M271.4 507.4L313.2 549.2M284.8 507.4L326.6 549.2M298.2 507.4L340 549.2M311.6 507.4L353.4 549.2" fill="none" stroke="#fff" stroke-width="0.9" stroke-dasharray="3 5"/>
<path d="M216.2 509.4 L216.2 547.19" fill="none" stroke="#000" stroke-width="2.6" stroke-linejoin="miter" />
<path d="M281 509.4 L281 547.18" fill="none" stroke="#000" stroke-width="2.6" stroke-linejoin="miter" />
<path clip-path="url(#c21)" d="M565.8 507.4L607.5 549.1M579.2 507.4L620.9 549.1M592.6 507.4L634.3 549.1M606 507.4L647.7 549.1M619.4 507.4L661.1 549.1M632.8 507.4L674.5 549.1M646.2 507.4L687.9 549.1M659.6 507.4L701.3 549.1M673 507.4L714.7 549.1M686.4 507.4L728.1 549.1M699.8 507.4L741.5 549.1M713.2 507.4L754.9 549.1M726.6 507.4L768.3 549.1" fill="none" stroke="#000" stroke-width="5.5" />
<path clip-path="url(#c22)" d="M566.2 507.4L607.9 549.1M579.6 507.4L621.3 549.1M593 507.4L634.7 549.1M606.4 507.4L648.1 549.1M619.8 507.4L661.5 549.1M633.2 507.4L674.9 549.1M646.6 507.4L688.3 549.1M660 507.4L701.7 549.1M673.4 507.4L715.1 549.1M686.8 507.4L728.5 549.1M700.2 507.4L741.9 549.1M713.6 507.4L755.3 549.1M727 507.4L768.7 549.1" fill="none" stroke="#fff" stroke-width="0.9" stroke-dasharray="3 5"/>
<path d="M637 509.4 L637 546.91" fill="none" stroke="#000" stroke-width="2.6" stroke-linejoin="miter" />
<path d="M700.8 509.4 L700.8 546.55" fill="none" stroke="#000" stroke-width="2.6" stroke-linejoin="miter" />
<polygon points="340.5,410.59 367,410.62 317,508.5 287.3,508.5 287.3,494 301.2,494" fill="#fff"/>
<path clip-path="url(#c23)" d="M280.05 402.29h0M284.75 402.29h0M289.45 402.29h0M294.15 402.29h0M298.85 402.29h0M303.55 402.29h0M308.25 402.29h0M312.95 402.29h0M317.65 402.29h0M322.35 402.29h0M327.05 402.29h0M331.75 402.29h0M336.45 402.29h0M341.15 402.29h0M345.85 402.29h0M350.55 402.29h0M355.25 402.29h0M359.95 402.29h0M364.65 402.29h0M369.35 402.29h0M282.4 406.89h0M287.1 406.89h0M291.8 406.89h0M296.5 406.89h0M301.2 406.89h0M305.9 406.89h0M310.6 406.89h0M315.3 406.89h0M320 406.89h0M324.7 406.89h0M329.4 406.89h0M334.1 406.89h0M338.8 406.89h0M343.5 406.89h0M348.2 406.89h0M352.9 406.89h0M357.6 406.89h0M362.3 406.89h0M367 406.89h0M371.7 406.89h0M280.05 411.49h0M284.75 411.49h0M289.45 411.49h0M294.15 411.49h0M298.85 411.49h0M303.55 411.49h0M308.25 411.49h0M312.95 411.49h0M317.65 411.49h0M322.35 411.49h0M327.05 411.49h0M331.75 411.49h0M336.45 411.49h0M341.15 411.49h0M345.85 411.49h0M350.55 411.49h0M355.25 411.49h0M359.95 411.49h0M364.65 411.49h0M369.35 411.49h0M282.4 416.09h0M287.1 416.09h0M291.8 416.09h0M296.5 416.09h0M301.2 416.09h0M305.9 416.09h0M310.6 416.09h0M315.3 416.09h0M320 416.09h0M324.7 416.09h0M329.4 416.09h0M334.1 416.09h0M338.8 416.09h0M343.5 416.09h0M348.2 416.09h0M352.9 416.09h0M357.6 416.09h0M362.3 416.09h0M367 416.09h0M371.7 416.09h0M280.05 420.69h0M284.75 420.69h0M289.45 420.69h0M294.15 420.69h0M298.85 420.69h0M303.55 420.69h0M308.25 420.69h0M312.95 420.69h0M317.65 420.69h0M322.35 420.69h0M327.05 420.69h0M331.75 420.69h0M336.45 420.69h0M341.15 420.69h0M345.85 420.69h0M350.55 420.69h0M355.25 420.69h0M359.95 420.69h0M364.65 420.69h0M369.35 420.69h0M282.4 425.29h0M287.1 425.29h0M291.8 425.29h0M296.5 425.29h0M301.2 425.29h0M305.9 425.29h0M310.6 425.29h0M315.3 425.29h0M320 425.29h0M324.7 425.29h0M329.4 425.29h0M334.1 425.29h0M338.8 425.29h0M343.5 425.29h0M348.2 425.29h0M352.9 425.29h0M357.6 425.29h0M362.3 425.29h0M367 425.29h0M371.7 425.29h0M280.05 429.89h0M284.75 429.89h0M289.45 429.89h0M294.15 429.89h0M298.85 429.89h0M303.55 429.89h0M308.25 429.89h0M312.95 429.89h0M317.65 429.89h0M322.35 429.89h0M327.05 429.89h0M331.75 429.89h0M336.45 429.89h0M341.15 429.89h0M345.85 429.89h0M350.55 429.89h0M355.25 429.89h0M359.95 429.89h0M364.65 429.89h0M369.35 429.89h0M282.4 434.49h0M287.1 434.49h0M291.8 434.49h0M296.5 434.49h0M301.2 434.49h0M305.9 434.49h0M310.6 434.49h0M315.3 434.49h0M320 434.49h0M324.7 434.49h0M329.4 434.49h0M334.1 434.49h0M338.8 434.49h0M343.5 434.49h0M348.2 434.49h0M352.9 434.49h0M357.6 434.49h0M362.3 434.49h0M367 434.49h0M371.7 434.49h0M280.05 439.09h0M284.75 439.09h0M289.45 439.09h0M294.15 439.09h0M298.85 439.09h0M303.55 439.09h0M308.25 439.09h0M312.95 439.09h0M317.65 439.09h0M322.35 439.09h0M327.05 439.09h0M331.75 439.09h0M336.45 439.09h0M341.15 439.09h0M345.85 439.09h0M350.55 439.09h0M355.25 439.09h0M359.95 439.09h0M364.65 439.09h0M369.35 439.09h0M282.4 443.69h0M287.1 443.69h0M291.8 443.69h0M296.5 443.69h0M301.2 443.69h0M305.9 443.69h0M310.6 443.69h0M315.3 443.69h0M320 443.69h0M324.7 443.69h0M329.4 443.69h0M334.1 443.69h0M338.8 443.69h0M343.5 443.69h0M348.2 443.69h0M352.9 443.69h0M357.6 443.69h0M362.3 443.69h0M367 443.69h0M371.7 443.69h0M280.05 448.29h0M284.75 448.29h0M289.45 448.29h0M294.15 448.29h0M298.85 448.29h0M303.55 448.29h0M308.25 448.29h0M312.95 448.29h0M317.65 448.29h0M322.35 448.29h0M327.05 448.29h0M331.75 448.29h0M336.45 448.29h0M341.15 448.29h0M345.85 448.29h0M350.55 448.29h0M355.25 448.29h0M359.95 448.29h0M364.65 448.29h0M369.35 448.29h0M282.4 452.89h0M287.1 452.89h0M291.8 452.89h0M296.5 452.89h0M301.2 452.89h0M305.9 452.89h0M310.6 452.89h0M315.3 452.89h0M320 452.89h0M324.7 452.89h0M329.4 452.89h0M334.1 452.89h0M338.8 452.89h0M343.5 452.89h0M348.2 452.89h0M352.9 452.89h0M357.6 452.89h0M362.3 452.89h0M367 452.89h0M371.7 452.89h0M280.05 457.49h0M284.75 457.49h0M289.45 457.49h0M294.15 457.49h0M298.85 457.49h0M303.55 457.49h0M308.25 457.49h0M312.95 457.49h0M317.65 457.49h0M322.35 457.49h0M327.05 457.49h0M331.75 457.49h0M336.45 457.49h0M341.15 457.49h0M345.85 457.49h0M350.55 457.49h0M355.25 457.49h0M359.95 457.49h0M364.65 457.49h0M369.35 457.49h0M282.4 462.09h0M287.1 462.09h0M291.8 462.09h0M296.5 462.09h0M301.2 462.09h0M305.9 462.09h0M310.6 462.09h0M315.3 462.09h0M320 462.09h0M324.7 462.09h0M329.4 462.09h0M334.1 462.09h0M338.8 462.09h0M343.5 462.09h0M348.2 462.09h0M352.9 462.09h0M357.6 462.09h0M362.3 462.09h0M367 462.09h0M371.7 462.09h0M280.05 466.69h0M284.75 466.69h0M289.45 466.69h0M294.15 466.69h0M298.85 466.69h0M303.55 466.69h0M308.25 466.69h0M312.95 466.69h0M317.65 466.69h0M322.35 466.69h0M327.05 466.69h0M331.75 466.69h0M336.45 466.69h0M341.15 466.69h0M345.85 466.69h0M350.55 466.69h0M355.25 466.69h0M359.95 466.69h0M364.65 466.69h0M369.35 466.69h0M282.4 471.29h0M287.1 471.29h0M291.8 471.29h0M296.5 471.29h0M301.2 471.29h0M305.9 471.29h0M310.6 471.29h0M315.3 471.29h0M320 471.29h0M324.7 471.29h0M329.4 471.29h0M334.1 471.29h0M338.8 471.29h0M343.5 471.29h0M348.2 471.29h0M352.9 471.29h0M357.6 471.29h0M362.3 471.29h0M367 471.29h0M371.7 471.29h0M280.05 475.89h0M284.75 475.89h0M289.45 475.89h0M294.15 475.89h0M298.85 475.89h0M303.55 475.89h0M308.25 475.89h0M312.95 475.89h0M317.65 475.89h0M322.35 475.89h0M327.05 475.89h0M331.75 475.89h0M336.45 475.89h0M341.15 475.89h0M345.85 475.89h0M350.55 475.89h0M355.25 475.89h0M359.95 475.89h0M364.65 475.89h0M369.35 475.89h0M282.4 480.49h0M287.1 480.49h0M291.8 480.49h0M296.5 480.49h0M301.2 480.49h0M305.9 480.49h0M310.6 480.49h0M315.3 480.49h0M320 480.49h0M324.7 480.49h0M329.4 480.49h0M334.1 480.49h0M338.8 480.49h0M343.5 480.49h0M348.2 480.49h0M352.9 480.49h0M357.6 480.49h0M362.3 480.49h0M367 480.49h0M371.7 480.49h0M280.05 485.09h0M284.75 485.09h0M289.45 485.09h0M294.15 485.09h0M298.85 485.09h0M303.55 485.09h0M308.25 485.09h0M312.95 485.09h0M317.65 485.09h0M322.35 485.09h0M327.05 485.09h0M331.75 485.09h0M336.45 485.09h0M341.15 485.09h0M345.85 485.09h0M350.55 485.09h0M355.25 485.09h0M359.95 485.09h0M364.65 485.09h0M369.35 485.09h0M282.4 489.69h0M287.1 489.69h0M291.8 489.69h0M296.5 489.69h0M301.2 489.69h0M305.9 489.69h0M310.6 489.69h0M315.3 489.69h0M320 489.69h0M324.7 489.69h0M329.4 489.69h0M334.1 489.69h0M338.8 489.69h0M343.5 489.69h0M348.2 489.69h0M352.9 489.69h0M357.6 489.69h0M362.3 489.69h0M367 489.69h0M371.7 489.69h0M280.05 494.29h0M284.75 494.29h0M289.45 494.29h0M294.15 494.29h0M298.85 494.29h0M303.55 494.29h0M308.25 494.29h0M312.95 494.29h0M317.65 494.29h0M322.35 494.29h0M327.05 494.29h0M331.75 494.29h0M336.45 494.29h0M341.15 494.29h0M345.85 494.29h0M350.55 494.29h0M355.25 494.29h0M359.95 494.29h0M364.65 494.29h0M369.35 494.29h0M282.4 498.89h0M287.1 498.89h0M291.8 498.89h0M296.5 498.89h0M301.2 498.89h0M305.9 498.89h0M310.6 498.89h0M315.3 498.89h0M320 498.89h0M324.7 498.89h0M329.4 498.89h0M334.1 498.89h0M338.8 498.89h0M343.5 498.89h0M348.2 498.89h0M352.9 498.89h0M357.6 498.89h0M362.3 498.89h0M367 498.89h0M371.7 498.89h0M280.05 503.49h0M284.75 503.49h0M289.45 503.49h0M294.15 503.49h0M298.85 503.49h0M303.55 503.49h0M308.25 503.49h0M312.95 503.49h0M317.65 503.49h0M322.35 503.49h0M327.05 503.49h0M331.75 503.49h0M336.45 503.49h0M341.15 503.49h0M345.85 503.49h0M350.55 503.49h0M355.25 503.49h0M359.95 503.49h0M364.65 503.49h0M369.35 503.49h0M282.4 508.09h0M287.1 508.09h0M291.8 508.09h0M296.5 508.09h0M301.2 508.09h0M305.9 508.09h0M310.6 508.09h0M315.3 508.09h0M320 508.09h0M324.7 508.09h0M329.4 508.09h0M334.1 508.09h0M338.8 508.09h0M343.5 508.09h0M348.2 508.09h0M352.9 508.09h0M357.6 508.09h0M362.3 508.09h0M367 508.09h0M371.7 508.09h0M280.05 512.69h0M284.75 512.69h0M289.45 512.69h0M294.15 512.69h0M298.85 512.69h0M303.55 512.69h0M308.25 512.69h0M312.95 512.69h0M317.65 512.69h0M322.35 512.69h0M327.05 512.69h0M331.75 512.69h0M336.45 512.69h0M341.15 512.69h0M345.85 512.69h0M350.55 512.69h0M355.25 512.69h0M359.95 512.69h0M364.65 512.69h0M369.35 512.69h0" fill="none" stroke="#000" stroke-width="3.3" stroke-linecap="round"/>
<polygon points="756.2,409.82 783.4,409.63 736.6,508.6 708.2,508.6 708.2,495.8 720,495.8" fill="#fff"/>
<path clip-path="url(#c24)" d="M700.45 401.52h0M705.15 401.52h0M709.85 401.52h0M714.55 401.52h0M719.25 401.52h0M723.95 401.52h0M728.65 401.52h0M733.35 401.52h0M738.05 401.52h0M742.75 401.52h0M747.45 401.52h0M752.15 401.52h0M756.85 401.52h0M761.55 401.52h0M766.25 401.52h0M770.95 401.52h0M775.65 401.52h0M780.35 401.52h0M785.05 401.52h0M702.8 406.12h0M707.5 406.12h0M712.2 406.12h0M716.9 406.12h0M721.6 406.12h0M726.3 406.12h0M731 406.12h0M735.7 406.12h0M740.4 406.12h0M745.1 406.12h0M749.8 406.12h0M754.5 406.12h0M759.2 406.12h0M763.9 406.12h0M768.6 406.12h0M773.3 406.12h0M778 406.12h0M782.7 406.12h0M787.4 406.12h0M700.45 410.72h0M705.15 410.72h0M709.85 410.72h0M714.55 410.72h0M719.25 410.72h0M723.95 410.72h0M728.65 410.72h0M733.35 410.72h0M738.05 410.72h0M742.75 410.72h0M747.45 410.72h0M752.15 410.72h0M756.85 410.72h0M761.55 410.72h0M766.25 410.72h0M770.95 410.72h0M775.65 410.72h0M780.35 410.72h0M785.05 410.72h0M702.8 415.32h0M707.5 415.32h0M712.2 415.32h0M716.9 415.32h0M721.6 415.32h0M726.3 415.32h0M731 415.32h0M735.7 415.32h0M740.4 415.32h0M745.1 415.32h0M749.8 415.32h0M754.5 415.32h0M759.2 415.32h0M763.9 415.32h0M768.6 415.32h0M773.3 415.32h0M778 415.32h0M782.7 415.32h0M787.4 415.32h0M700.45 419.92h0M705.15 419.92h0M709.85 419.92h0M714.55 419.92h0M719.25 419.92h0M723.95 419.92h0M728.65 419.92h0M733.35 419.92h0M738.05 419.92h0M742.75 419.92h0M747.45 419.92h0M752.15 419.92h0M756.85 419.92h0M761.55 419.92h0M766.25 419.92h0M770.95 419.92h0M775.65 419.92h0M780.35 419.92h0M785.05 419.92h0M702.8 424.52h0M707.5 424.52h0M712.2 424.52h0M716.9 424.52h0M721.6 424.52h0M726.3 424.52h0M731 424.52h0M735.7 424.52h0M740.4 424.52h0M745.1 424.52h0M749.8 424.52h0M754.5 424.52h0M759.2 424.52h0M763.9 424.52h0M768.6 424.52h0M773.3 424.52h0M778 424.52h0M782.7 424.52h0M787.4 424.52h0M700.45 429.12h0M705.15 429.12h0M709.85 429.12h0M714.55 429.12h0M719.25 429.12h0M723.95 429.12h0M728.65 429.12h0M733.35 429.12h0M738.05 429.12h0M742.75 429.12h0M747.45 429.12h0M752.15 429.12h0M756.85 429.12h0M761.55 429.12h0M766.25 429.12h0M770.95 429.12h0M775.65 429.12h0M780.35 429.12h0M785.05 429.12h0M702.8 433.72h0M707.5 433.72h0M712.2 433.72h0M716.9 433.72h0M721.6 433.72h0M726.3 433.72h0M731 433.72h0M735.7 433.72h0M740.4 433.72h0M745.1 433.72h0M749.8 433.72h0M754.5 433.72h0M759.2 433.72h0M763.9 433.72h0M768.6 433.72h0M773.3 433.72h0M778 433.72h0M782.7 433.72h0M787.4 433.72h0M700.45 438.32h0M705.15 438.32h0M709.85 438.32h0M714.55 438.32h0M719.25 438.32h0M723.95 438.32h0M728.65 438.32h0M733.35 438.32h0M738.05 438.32h0M742.75 438.32h0M747.45 438.32h0M752.15 438.32h0M756.85 438.32h0M761.55 438.32h0M766.25 438.32h0M770.95 438.32h0M775.65 438.32h0M780.35 438.32h0M785.05 438.32h0M702.8 442.92h0M707.5 442.92h0M712.2 442.92h0M716.9 442.92h0M721.6 442.92h0M726.3 442.92h0M731 442.92h0M735.7 442.92h0M740.4 442.92h0M745.1 442.92h0M749.8 442.92h0M754.5 442.92h0M759.2 442.92h0M763.9 442.92h0M768.6 442.92h0M773.3 442.92h0M778 442.92h0M782.7 442.92h0M787.4 442.92h0M700.45 447.52h0M705.15 447.52h0M709.85 447.52h0M714.55 447.52h0M719.25 447.52h0M723.95 447.52h0M728.65 447.52h0M733.35 447.52h0M738.05 447.52h0M742.75 447.52h0M747.45 447.52h0M752.15 447.52h0M756.85 447.52h0M761.55 447.52h0M766.25 447.52h0M770.95 447.52h0M775.65 447.52h0M780.35 447.52h0M785.05 447.52h0M702.8 452.12h0M707.5 452.12h0M712.2 452.12h0M716.9 452.12h0M721.6 452.12h0M726.3 452.12h0M731 452.12h0M735.7 452.12h0M740.4 452.12h0M745.1 452.12h0M749.8 452.12h0M754.5 452.12h0M759.2 452.12h0M763.9 452.12h0M768.6 452.12h0M773.3 452.12h0M778 452.12h0M782.7 452.12h0M787.4 452.12h0M700.45 456.72h0M705.15 456.72h0M709.85 456.72h0M714.55 456.72h0M719.25 456.72h0M723.95 456.72h0M728.65 456.72h0M733.35 456.72h0M738.05 456.72h0M742.75 456.72h0M747.45 456.72h0M752.15 456.72h0M756.85 456.72h0M761.55 456.72h0M766.25 456.72h0M770.95 456.72h0M775.65 456.72h0M780.35 456.72h0M785.05 456.72h0M702.8 461.32h0M707.5 461.32h0M712.2 461.32h0M716.9 461.32h0M721.6 461.32h0M726.3 461.32h0M731 461.32h0M735.7 461.32h0M740.4 461.32h0M745.1 461.32h0M749.8 461.32h0M754.5 461.32h0M759.2 461.32h0M763.9 461.32h0M768.6 461.32h0M773.3 461.32h0M778 461.32h0M782.7 461.32h0M787.4 461.32h0M700.45 465.92h0M705.15 465.92h0M709.85 465.92h0M714.55 465.92h0M719.25 465.92h0M723.95 465.92h0M728.65 465.92h0M733.35 465.92h0M738.05 465.92h0M742.75 465.92h0M747.45 465.92h0M752.15 465.92h0M756.85 465.92h0M761.55 465.92h0M766.25 465.92h0M770.95 465.92h0M775.65 465.92h0M780.35 465.92h0M785.05 465.92h0M702.8 470.52h0M707.5 470.52h0M712.2 470.52h0M716.9 470.52h0M721.6 470.52h0M726.3 470.52h0M731 470.52h0M735.7 470.52h0M740.4 470.52h0M745.1 470.52h0M749.8 470.52h0M754.5 470.52h0M759.2 470.52h0M763.9 470.52h0M768.6 470.52h0M773.3 470.52h0M778 470.52h0M782.7 470.52h0M787.4 470.52h0M700.45 475.12h0M705.15 475.12h0M709.85 475.12h0M714.55 475.12h0M719.25 475.12h0M723.95 475.12h0M728.65 475.12h0M733.35 475.12h0M738.05 475.12h0M742.75 475.12h0M747.45 475.12h0M752.15 475.12h0M756.85 475.12h0M761.55 475.12h0M766.25 475.12h0M770.95 475.12h0M775.65 475.12h0M780.35 475.12h0M785.05 475.12h0M702.8 479.72h0M707.5 479.72h0M712.2 479.72h0M716.9 479.72h0M721.6 479.72h0M726.3 479.72h0M731 479.72h0M735.7 479.72h0M740.4 479.72h0M745.1 479.72h0M749.8 479.72h0M754.5 479.72h0M759.2 479.72h0M763.9 479.72h0M768.6 479.72h0M773.3 479.72h0M778 479.72h0M782.7 479.72h0M787.4 479.72h0M700.45 484.32h0M705.15 484.32h0M709.85 484.32h0M714.55 484.32h0M719.25 484.32h0M723.95 484.32h0M728.65 484.32h0M733.35 484.32h0M738.05 484.32h0M742.75 484.32h0M747.45 484.32h0M752.15 484.32h0M756.85 484.32h0M761.55 484.32h0M766.25 484.32h0M770.95 484.32h0M775.65 484.32h0M780.35 484.32h0M785.05 484.32h0M702.8 488.92h0M707.5 488.92h0M712.2 488.92h0M716.9 488.92h0M721.6 488.92h0M726.3 488.92h0M731 488.92h0M735.7 488.92h0M740.4 488.92h0M745.1 488.92h0M749.8 488.92h0M754.5 488.92h0M759.2 488.92h0M763.9 488.92h0M768.6 488.92h0M773.3 488.92h0M778 488.92h0M782.7 488.92h0M787.4 488.92h0M700.45 493.52h0M705.15 493.52h0M709.85 493.52h0M714.55 493.52h0M719.25 493.52h0M723.95 493.52h0M728.65 493.52h0M733.35 493.52h0M738.05 493.52h0M742.75 493.52h0M747.45 493.52h0M752.15 493.52h0M756.85 493.52h0M761.55 493.52h0M766.25 493.52h0M770.95 493.52h0M775.65 493.52h0M780.35 493.52h0M785.05 493.52h0M702.8 498.12h0M707.5 498.12h0M712.2 498.12h0M716.9 498.12h0M721.6 498.12h0M726.3 498.12h0M731 498.12h0M735.7 498.12h0M740.4 498.12h0M745.1 498.12h0M749.8 498.12h0M754.5 498.12h0M759.2 498.12h0M763.9 498.12h0M768.6 498.12h0M773.3 498.12h0M778 498.12h0M782.7 498.12h0M787.4 498.12h0M700.45 502.72h0M705.15 502.72h0M709.85 502.72h0M714.55 502.72h0M719.25 502.72h0M723.95 502.72h0M728.65 502.72h0M733.35 502.72h0M738.05 502.72h0M742.75 502.72h0M747.45 502.72h0M752.15 502.72h0M756.85 502.72h0M761.55 502.72h0M766.25 502.72h0M770.95 502.72h0M775.65 502.72h0M780.35 502.72h0M785.05 502.72h0M702.8 507.32h0M707.5 507.32h0M712.2 507.32h0M716.9 507.32h0M721.6 507.32h0M726.3 507.32h0M731 507.32h0M735.7 507.32h0M740.4 507.32h0M745.1 507.32h0M749.8 507.32h0M754.5 507.32h0M759.2 507.32h0M763.9 507.32h0M768.6 507.32h0M773.3 507.32h0M778 507.32h0M782.7 507.32h0M787.4 507.32h0M700.45 511.92h0M705.15 511.92h0M709.85 511.92h0M714.55 511.92h0M719.25 511.92h0M723.95 511.92h0M728.65 511.92h0M733.35 511.92h0M738.05 511.92h0M742.75 511.92h0M747.45 511.92h0M752.15 511.92h0M756.85 511.92h0M761.55 511.92h0M766.25 511.92h0M770.95 511.92h0M775.65 511.92h0M780.35 511.92h0M785.05 511.92h0" fill="none" stroke="#000" stroke-width="3.3" stroke-linecap="round"/>
<path clip-path="url(#c25)" d="M139.1 591.3L187.6 542.8M166.2 591.3L214.7 542.8M193.3 591.3L241.8 542.8M220.4 591.3L268.9 542.8M247.5 591.3L296 542.8M274.6 591.3L323.1 542.8M301.7 591.3L350.2 542.8M328.8 591.3L377.3 542.8M355.9 591.3L404.4 542.8M383 591.3L431.5 542.8M410.1 591.3L458.6 542.8M437.2 591.3L485.7 542.8M464.3 591.3L512.8 542.8M491.4 591.3L539.9 542.8M518.5 591.3L567 542.8M545.6 591.3L594.1 542.8M572.7 591.3L621.2 542.8M599.8 591.3L648.3 542.8M626.9 591.3L675.4 542.8M654 591.3L702.5 542.8M681.1 591.3L729.6 542.8M708.2 591.3L756.7 542.8M735.3 591.3L783.8 542.8M762.4 591.3L810.9 542.8M789.5 591.3L838 542.8M816.6 591.3L865.1 542.8M843.7 591.3L892.2 542.8M870.8 591.3L919.3 542.8M897.9 591.3L946.4 542.8M925 591.3L973.5 542.8M952.1 591.3L1000.6 542.8M979.2 591.3L1027.7 542.8M1006.3 591.3L1054.8 542.8" fill="none" stroke="#000" stroke-width="2.3" />
<path clip-path="url(#c26)" d="M152.65 591.3L201.15 542.8M179.75 591.3L228.25 542.8M206.85 591.3L255.35 542.8M233.95 591.3L282.45 542.8M261.05 591.3L309.55 542.8M288.15 591.3L336.65 542.8M315.25 591.3L363.75 542.8M342.35 591.3L390.85 542.8M369.45 591.3L417.95 542.8M396.55 591.3L445.05 542.8M423.65 591.3L472.15 542.8M450.75 591.3L499.25 542.8M477.85 591.3L526.35 542.8M504.95 591.3L553.45 542.8M532.05 591.3L580.55 542.8M559.15 591.3L607.65 542.8M586.25 591.3L634.75 542.8M613.35 591.3L661.85 542.8M640.45 591.3L688.95 542.8M667.55 591.3L716.05 542.8M694.65 591.3L743.15 542.8M721.75 591.3L770.25 542.8M748.85 591.3L797.35 542.8M775.95 591.3L824.45 542.8M803.05 591.3L851.55 542.8M830.15 591.3L878.65 542.8M857.25 591.3L905.75 542.8M884.35 591.3L932.85 542.8M911.45 591.3L959.95 542.8M938.55 591.3L987.05 542.8M965.65 591.3L1014.15 542.8M992.75 591.3L1041.25 542.8" fill="none" stroke="#000" stroke-width="2.8" stroke-dasharray="7.4 6.8" stroke-linecap="round"/>
<path d="M175.3 476.8 L175.3 553.7 L323.5 553.7 L323.5 476.8 L175.3 476.8" fill="none" stroke="#000" stroke-width="1.9" stroke-linejoin="miter" stroke-dasharray="16 3"/>
<rect x="210.6" y="446" width="76.8" height="36.94" fill="#000"/>
<rect x="220.5" y="456.6" width="6.2" height="24.64" fill="#fff"/>
<rect x="229.4" y="456.6" width="6.2" height="24.64" fill="#fff"/>
<rect x="238.7" y="456.6" width="6.2" height="24.64" fill="#fff"/>
<rect x="248.3" y="456.6" width="6.2" height="24.64" fill="#fff"/>
<rect x="257.7" y="456.6" width="6.2" height="24.64" fill="#fff"/>
<rect x="267.3" y="456.6" width="6.2" height="24.64" fill="#fff"/>
<path d="M217 451.4H283" fill="none" stroke="#fff" stroke-width="3.2" stroke-linecap="round" stroke-dasharray="7.5 6"/>
<path d="M283 457.5V479.5M215.6 459V479" fill="none" stroke="#fff" stroke-width="3" stroke-linecap="round" stroke-dasharray="7.5 5.5"/>
<rect x="641.2" y="454" width="56.4" height="28.31" fill="#fff"/>
<path d="M641.2 482.31 L641.2 454 L697.6 454" fill="none" stroke="#000" stroke-width="2.8" stroke-linejoin="miter" />
<path d="M696.8 452.6 L696.8 482.31" fill="none" stroke="#000" stroke-width="4.4" stroke-linejoin="miter" />
<path d="M650.47 454 L650.47 482.31" fill="none" stroke="#000" stroke-width="3" stroke-linejoin="miter" />
<path d="M659.73 454 L659.73 482.31" fill="none" stroke="#000" stroke-width="3" stroke-linejoin="miter" />
<path d="M669 454 L669 482.31" fill="none" stroke="#000" stroke-width="3" stroke-linejoin="miter" />
<path d="M678.27 454 L678.27 482.31" fill="none" stroke="#000" stroke-width="3" stroke-linejoin="miter" />
<path d="M687.53 454 L687.53 482.31" fill="none" stroke="#000" stroke-width="3" stroke-linejoin="miter" />
<path d="M182.1 591 L182.1 254.6 L225.6 254.6 L225.6 278.94 L602.4 278.4 L602.4 254.3 L646 254.3 L646 278.19 L1017.8 276.4 L1016.9 588.5 L602.4 588.9 L180.65 589.3" fill="none" stroke="#000" stroke-width="2.9" stroke-linejoin="miter" />
<path d="M180.65 254.6 L227.05 254.6" fill="none" stroke="#000" stroke-width="3.4" stroke-linejoin="miter" />
<path d="M600.95 254.3 L647.45 254.3" fill="none" stroke="#000" stroke-width="3.4" stroke-linejoin="miter" />
<path d="M225.6 278.94 L602.4 278.4" fill="none" stroke="#000" stroke-width="3.4" stroke-linejoin="miter" />
<path d="M646 278.19 L1019.25 276.4" fill="none" stroke="#000" stroke-width="3.4" stroke-linejoin="miter" />
<path d="M180.65 589.3 L602.4 588.9 L1018.35 588.5" fill="none" stroke="#000" stroke-width="3.4" stroke-linejoin="miter" />
<path d="M182.1 337 L602.4 337.3 L1017.3 335.7" fill="none" stroke="#000" stroke-width="3.4" stroke-linejoin="miter" />
<path d="M182.1 410.4 L602.4 410.9 L1017.3 408" fill="none" stroke="#000" stroke-width="3.4" stroke-linejoin="miter" />
<path d="M182.1 547.2 L602.4 547.1 L1017.3 544.8" fill="none" stroke="#000" stroke-width="3.4" stroke-linejoin="miter" />
<path d="M182.1 483 L306.38 482.88" fill="none" stroke="#000" stroke-width="3.4" stroke-linejoin="miter" />
<path d="M330.03 482.86 L602.4 482.6 L725.73 482.06" fill="none" stroke="#000" stroke-width="3.4" stroke-linejoin="miter" />
<path d="M749.08 481.96 L1017.3 480.8" fill="none" stroke="#000" stroke-width="3.4" stroke-linejoin="miter" />
<path d="M182.1 313.2 L225.6 313.2" fill="none" stroke="#000" stroke-width="3.4" stroke-linejoin="miter" />
<path d="M602.4 313.2 L646 313.2" fill="none" stroke="#000" stroke-width="3.4" stroke-linejoin="miter" />
<path d="M225.6 313.2 L225.6 410.45" fill="none" stroke="#000" stroke-width="2.9" stroke-linejoin="miter" />
<path d="M602.4 313.2 L602.4 482.6" fill="none" stroke="#000" stroke-width="2.9" stroke-linejoin="miter" />
<path d="M646 313.2 L646 410.6" fill="none" stroke="#000" stroke-width="2.9" stroke-linejoin="miter" />
<path d="M343.5 410.59 L343.5 374.45" fill="none" stroke="#000" stroke-width="2.9" stroke-linejoin="miter" />
<path d="M342.05 376.15 L602.4 376.4" fill="none" stroke="#000" stroke-width="3.4" stroke-linejoin="miter" />
<path d="M761 409.79 L761 373.9" fill="none" stroke="#000" stroke-width="2.9" stroke-linejoin="miter" />
<path d="M759.55 375.6 L1017.3 374.3" fill="none" stroke="#000" stroke-width="3.4" stroke-linejoin="miter" />
<path d="M182.1 509.4 L318.45 509.4" fill="none" stroke="#000" stroke-width="3.4" stroke-linejoin="miter" />
<path d="M317 509.4 L317 547.17" fill="none" stroke="#000" stroke-width="3.4" stroke-linejoin="miter" />
<path d="M602.4 547.1 L602.4 509.4" fill="none" stroke="#000" stroke-width="2.9" stroke-linejoin="miter" />
<path d="M600.95 509.4 L736.85 509.4" fill="none" stroke="#000" stroke-width="3.4" stroke-linejoin="miter" />
<path d="M735.4 509.4 L735.4 546.36" fill="none" stroke="#000" stroke-width="3.4" stroke-linejoin="miter" />
<polygon points="340.5,410.59 367,410.62 317,508.5 287.3,508.5 287.3,494 301.2,494" fill="none" stroke="#000" stroke-width="3.6" stroke-linejoin="miter"/>
<polygon points="756.2,409.82 783.4,409.63 736.6,508.6 708.2,508.6 708.2,495.8 720,495.8" fill="none" stroke="#000" stroke-width="3.6" stroke-linejoin="miter"/>
</g>
<text transform="scale(1.2,1)" x="87.25 107.79" y="284.8" font-size="28" text-anchor="middle">16</text>
<text transform="scale(1.2,1)" x="33.92 54.92" y="310.7" font-size="28" text-anchor="middle">20</text>
<text transform="scale(1.2,1)" x="87.25 108.38" y="337.1" font-size="28" text-anchor="middle">18</text>
<text transform="scale(1.2,1)" x="86.29 106.92" y="441.2" font-size="28" text-anchor="middle">13</text>
<text transform="scale(1.2,1)" x="87.21 108.42" y="478.3" font-size="28" text-anchor="middle">43</text>
<text transform="scale(1.2,1)" x="889 911.67" y="316" font-size="28" text-anchor="middle">20</text>
<text transform="scale(1.2,1)" x="889 911.25" y="354.9" font-size="28" text-anchor="middle">24</text>
<text transform="scale(1.2,1)" x="889 911.46" y="398.3" font-size="28" text-anchor="middle">22</text>
<text transform="scale(1.2,1)" x="955.62 977.92" y="352.4" font-size="28" text-anchor="middle">26</text>
<text transform="scale(1.2,1)" x="888 911.29" y="523.6" font-size="28" text-anchor="middle">12</text>
<text transform="scale(1.2,1)" x="888 911.29" y="575.4" font-size="28" text-anchor="middle">10</text>
<text transform="scale(1.2,1)" x="162.08 184.08" y="638.7" font-size="28" text-anchor="middle">45</text>
<text transform="scale(1.2,1)" x="208 229.67" y="638.7" font-size="28" text-anchor="middle">46</text>
<text transform="scale(1.2,1)" x="250.54 273.5" y="638.7" font-size="28" text-anchor="middle">47</text>
<text transform="scale(1.2,1)" x="320.96 342.67" y="638.3" font-size="28" text-anchor="middle">14</text>
<text transform="scale(1.2,1)" x="626.17 647.92" y="637.3" font-size="28" text-anchor="middle">28</text>
<text transform="scale(1.2,1)" x="747.25 769.08" y="637.3" font-size="28" text-anchor="middle">60</text>
<text transform="scale(1.2,1)" x="201.62 223.42" y="689.9" font-size="28" text-anchor="middle">44</text>
<text transform="scale(1.2,1)" x="724.13 746.29" y="154.7" font-size="28" text-anchor="middle">30</text>
<path d="M862.2 158.6 L904.8 158.6" fill="none" stroke="#000" stroke-width="2.6" stroke-linejoin="miter" />
<path d="M849.9 150.5C848.52 152.8 844.67 160.18 841.6 164.3C838.53 168.42 834.4 172.95 831.5 175.2C828.6 177.45 826.38 177.8 824.2 177.8C822.02 177.8 820.58 176.97 818.4 175.2C816.22 173.43 814 169.15 811.1 167.2C808.2 165.25 804.62 163.5 801 163.5C797.38 163.5 793.52 164.9 789.4 167.2C785.28 169.5 780.18 173.55 776.3 177.3C772.42 181.05 769.43 185.5 766.1 189.7C762.77 193.9 757.93 200.37 756.3 202.5" fill="none" stroke="#000" stroke-width="2.3" stroke-linecap="round" stroke-linejoin="round" />
<path d="M764 186L756.3 202.5L771.9 191.9" fill="none" stroke="#000" stroke-width="2.3" stroke-linecap="round" stroke-linejoin="round" />
<path d="M141 274.2C141.83 274.92 144.18 277.38 146 278.5C147.82 279.62 149.9 280.9 151.9 280.9C153.9 280.9 155.65 280.32 158 278.5C160.35 276.68 163.4 272.38 166 270C168.6 267.62 171.27 265.2 173.6 264.2C175.93 263.2 177.77 263.45 180 264C182.23 264.55 184.73 266.07 187 267.5C189.27 268.93 192.5 271.75 193.6 272.6" fill="none" stroke="#000" stroke-width="2.1" stroke-linecap="round" stroke-linejoin="round" />
<path d="M144.4 327.6C145.25 328.33 147.7 330.8 149.5 332C151.3 333.2 153.2 334.72 155.2 334.8C157.2 334.88 159.2 334.3 161.5 332.5C163.8 330.7 166.43 326.48 169 324C171.57 321.52 174.48 318.68 176.9 317.6C179.32 316.52 181.15 316.77 183.5 317.5C185.85 318.23 188.48 320.17 191 322C193.52 323.83 197.33 327.42 198.6 328.5" fill="none" stroke="#000" stroke-width="2.1" stroke-linecap="round" stroke-linejoin="round" />
<path d="M142.4 433.1C143.33 433.75 146.07 436.03 148 437C149.93 437.97 151.83 439.07 154 438.9C156.17 438.73 158.75 437.57 161 436C163.25 434.43 165.52 431.63 167.5 429.5C169.48 427.37 170.78 424.48 172.9 423.2C175.02 421.92 178.02 421.67 180.2 421.8C182.38 421.93 184.32 423.03 186 424C187.68 424.97 188.73 426.28 190.3 427.6C191.87 428.92 194.55 431.18 195.4 431.9" fill="none" stroke="#000" stroke-width="2.1" stroke-linecap="round" stroke-linejoin="round" />
<path d="M141.7 467.5C142.75 467.88 145.7 469.25 148 469.8C150.3 470.35 152.32 470.93 155.5 470.8C158.68 470.67 162.75 470.63 167.1 469C171.45 467.37 177.25 463.3 181.6 461C185.95 458.7 189.33 456.3 193.2 455.2C197.07 454.1 201.42 453.68 204.8 454.4C208.18 455.12 210.6 457.68 213.5 459.5C216.4 461.32 219.28 463.85 222.2 465.3C225.12 466.75 229.53 467.72 231 468.2" fill="none" stroke="#000" stroke-width="2.1" stroke-linecap="round" stroke-linejoin="round" />
<path d="M1018.5 298.4C1019.5 298.23 1022.75 296.9 1024.5 297.4C1026.25 297.9 1027.5 299.9 1029 301.4C1030.5 302.9 1031.42 304.95 1033.5 306.4C1035.58 307.85 1038.75 309.63 1041.5 310.1C1044.25 310.57 1047.18 309.95 1050 309.2C1052.82 308.45 1057 306.2 1058.4 305.6" fill="none" stroke="#000" stroke-width="2.1" stroke-linecap="round" stroke-linejoin="round" />
<path d="M1018.5 339.3C1019.5 339.13 1022.75 337.8 1024.5 338.3C1026.25 338.8 1027.5 340.8 1029 342.3C1030.5 343.8 1031.42 345.85 1033.5 347.3C1035.58 348.75 1038.75 350.53 1041.5 351C1044.25 351.47 1047.18 350.85 1050 350.1C1052.82 349.35 1057 347.1 1058.4 346.5" fill="none" stroke="#000" stroke-width="2.1" stroke-linecap="round" stroke-linejoin="round" />
<path d="M1018.5 381C1019.5 380.83 1022.75 379.5 1024.5 380C1026.25 380.5 1027.5 382.5 1029 384C1030.5 385.5 1031.42 387.55 1033.5 389C1035.58 390.45 1038.75 392.23 1041.5 392.7C1044.25 393.17 1047.18 392.55 1050 391.8C1052.82 391.05 1057 388.8 1058.4 388.2" fill="none" stroke="#000" stroke-width="2.1" stroke-linecap="round" stroke-linejoin="round" />
<path d="M1018.5 506C1019.5 505.83 1022.75 504.5 1024.5 505C1026.25 505.5 1027.5 507.5 1029 509C1030.5 510.5 1031.42 512.55 1033.5 514C1035.58 515.45 1038.75 517.23 1041.5 517.7C1044.25 518.17 1047.18 517.55 1050 516.8C1052.82 516.05 1057 513.8 1058.4 513.2" fill="none" stroke="#000" stroke-width="2.1" stroke-linecap="round" stroke-linejoin="round" />
<path d="M1018.5 557C1019.5 556.83 1022.75 555.5 1024.5 556C1026.25 556.5 1027.5 558.5 1029 560C1030.5 561.5 1031.42 563.55 1033.5 565C1035.58 566.45 1038.75 568.23 1041.5 568.7C1044.25 569.17 1047.18 568.55 1050 567.8C1052.82 567.05 1057 564.8 1058.4 564.2" fill="none" stroke="#000" stroke-width="2.1" stroke-linecap="round" stroke-linejoin="round" />
<path d="M204.2 620C204.92 618.67 207.43 614.7 208.5 612C209.57 609.3 210.43 606.63 210.6 603.8C210.77 600.97 210.75 598.42 209.5 595C208.25 591.58 205.35 587.63 203.1 583.3C200.85 578.97 198.05 573.45 196 569C193.95 564.55 192 559.35 190.8 556.6C189.6 553.85 189.13 553.18 188.8 552.5" fill="none" stroke="#000" stroke-width="2.1" stroke-linecap="round" stroke-linejoin="round" />
<path d="M261.7 620C262.33 618.5 264.65 614.03 265.5 611C266.35 607.97 266.97 604.8 266.8 601.8C266.63 598.8 265.87 596.08 264.5 593C263.13 589.92 260.85 587.47 258.6 583.3C256.35 579.13 253.05 572.45 251 568C248.95 563.55 247.08 558.5 246.3 556.6" fill="none" stroke="#000" stroke-width="2.1" stroke-linecap="round" stroke-linejoin="round" />
<path d="M315.9 621.8C316.67 620.33 319.4 615.78 320.5 613C321.6 610.22 322.42 607.93 322.5 605.1C322.58 602.27 321.97 598.78 321 596C320.03 593.22 318.37 590.9 316.7 588.4C315.03 585.9 312.95 583.73 311 581C309.05 578.27 306.53 575.73 305 572C303.47 568.27 302.33 560.83 301.8 558.6" fill="none" stroke="#000" stroke-width="2.1" stroke-linecap="round" stroke-linejoin="round" />
<path d="M390.2 616C389.97 613.67 389.37 606.32 388.8 602C388.23 597.68 387.93 594.43 386.8 590.1C385.67 585.77 383.95 580.17 382 576C380.05 571.83 377.77 568.43 375.1 565.1C372.43 561.77 369.33 558.65 366 556C362.67 553.35 359.43 551.53 355.1 549.2C350.77 546.87 345.02 544.08 340 542C334.98 539.92 327.5 537.58 325 536.7" fill="none" stroke="#000" stroke-width="2.1" stroke-linecap="round" stroke-linejoin="round" />
<path d="M325 536.7L325 546" fill="none" stroke="#000" stroke-width="1.5" stroke-linecap="round" stroke-linejoin="round" />
<path d="M755.3 610C754.08 608.17 750.12 602.7 748 599C745.88 595.3 743.93 591.3 742.6 587.8C741.27 584.3 740.35 581.08 740 578C739.65 574.92 739.67 572.38 740.5 569.3C741.33 566.22 742.93 562.58 745 559.5C747.07 556.42 749.73 554.3 752.9 550.8C756.07 547.3 760.17 543.22 764 538.5C767.83 533.78 773.03 526.75 775.9 522.5C778.77 518.25 780.25 515.75 781.2 513C782.15 510.25 782.3 508.55 781.6 506C780.9 503.45 779.1 500.28 777 497.7C774.9 495.12 771.68 492.62 769 490.5C766.32 488.38 764.18 486.5 760.9 485C757.62 483.5 751.23 482.08 749.3 481.5" fill="none" stroke="#000" stroke-width="2.1" stroke-linecap="round" stroke-linejoin="round" />
<path d="M896.3 610.8C894.08 608.83 887.05 602.83 883 599C878.95 595.17 874.92 591.47 872 587.8C869.08 584.13 866.87 580.42 865.5 577C864.13 573.58 863.22 571.05 863.8 567.3C864.38 563.55 866.6 558.62 869 554.5C871.4 550.38 874.7 546.02 878.2 542.6C881.7 539.18 886.43 536.77 890 534C893.57 531.23 896.6 529.33 899.6 526C902.6 522.67 906.02 518.17 908 514C909.98 509.83 911.5 504.83 911.5 501C911.5 497.17 909.7 493.83 908 491C906.3 488.17 904.05 486.83 901.3 484C898.55 481.17 894.88 477.1 891.5 474C888.12 470.9 882.75 466.83 881 465.4" fill="none" stroke="#000" stroke-width="2.1" stroke-linecap="round" stroke-linejoin="round" />
<path d="M91 266.4C84 267 84.5 272 84.5 278L84.5 291C84.5 297 83 300 78.4 301C83 302 84.5 305 84.5 311L84.5 325C84.5 331 84 335.5 91 336" fill="none" stroke="#000" stroke-width="2.3" stroke-linecap="round" stroke-linejoin="round" />
<path d="M1107.7 295.9C1116.5 296.5 1117.7 302 1117.7 310L1117.7 334C1117.7 342 1120 346 1126.9 347.1C1120 348.2 1117.7 352 1117.7 360L1117.7 386C1117.7 394 1116.5 399 1107.7 399.4" fill="none" stroke="#000" stroke-width="2.3" stroke-linecap="round" stroke-linejoin="round" />
<path d="M185.9 643.4C186.5 652.5 191 655.1 199 655.1L241 655.1C249 655.1 254 658 255.1 666C256.2 658 261 655.1 269 655.1L313 655.1C321 655.1 326 652.5 326.6 643.4" fill="none" stroke="#000" stroke-width="2.3" stroke-linecap="round" stroke-linejoin="round" /></svg>
</body></html>
